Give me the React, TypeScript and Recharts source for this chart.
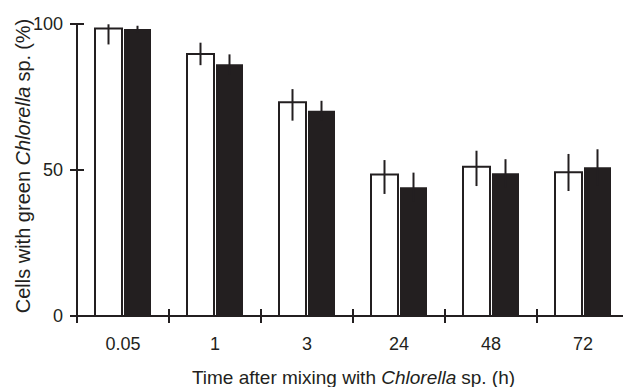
import { BarChart, Bar, XAxis, YAxis, ErrorBar } from 'recharts';

// Time after mixing (h) and % cells with green Chlorella
const CATEGORIES = ['0.05', '1', '3', '24', '48', '72'];
const WHITE = [98.5, 89.7, 73.2, 48.5, 51.1, 49.2];
const WHITE_ERR_LOW = [5.5, 3.8, 6.3, 6.7, 6.6, 6.4];
const WHITE_ERR_HIGH = [1.4, 3.9, 4.5, 4.9, 5.5, 6.3];
const BLACK = [98.3, 86.2, 70.3, 44.1, 48.9, 50.9];
const BLACK_ERR = [1.1, 3.4, 3.4, 5.0, 4.8, 6.2];
const Y_TICKS = [0, 50, 100];

const CHART_W = 640;
const CHART_H = 387;
const PLOT_LEFT = 77;
const PLOT_TOP = 24;
const PLOT_BOTTOM = 316;
const PLOT_RIGHT = 629;
const BAND = (PLOT_RIGHT - PLOT_LEFT) / CATEGORIES.length;
const INK = '#231f20';
const FONT = '"Liberation Sans", Arial, sans-serif';

const data = CATEGORIES.map((time, i) => ({
  time,
  white: WHITE[i],
  whiteErr: [WHITE_ERR_LOW[i], WHITE_ERR_HIGH[i]],
  black: BLACK[i],
  blackErr: BLACK_ERR[i],
}));

function XTick({ x, payload }: any) {
  const bx = x - BAND / 2;
  return (
    <g>
      <line x1={bx} x2={bx} y1={PLOT_BOTTOM - 7} y2={PLOT_BOTTOM + 7} stroke={INK} strokeWidth={2} />
      <text x={x} y={344} textAnchor="middle" dominantBaseline="central" fontSize={18} fill={INK} fontFamily={FONT}>
        {payload.value}
      </text>
    </g>
  );
}

function YTick({ y, payload }: any) {
  return (
    <g>
      <line x1={PLOT_LEFT - 7} x2={PLOT_LEFT + 7} y1={y} y2={y} stroke={INK} strokeWidth={2} />
      <text x={63} y={y} textAnchor="end" dominantBaseline="central" fontSize={18} fill={INK} fontFamily={FONT}>
        {payload.value}
      </text>
    </g>
  );
}

const XTitle = () => (
  <text x={353.5} y={384} textAnchor="middle" fontSize={19} fill={INK} fontFamily={FONT}>
    <tspan>Time after mixing with </tspan>
    <tspan fontStyle="italic">Chlorella</tspan>
    <tspan dx={5}>sp. (h)</tspan>
  </text>
);

const YTitle = () => (
  <text
    x={30}
    y={166}
    transform="rotate(-90 30 166)"
    textAnchor="middle"
    fontSize={20}
    fill={INK}
    fontFamily={FONT}
  >
    <tspan>Cells with green </tspan>
    <tspan fontStyle="italic">Chlorella</tspan>
    <tspan dx={5}>sp.</tspan>
    <tspan dx={5}>(%)</tspan>
  </text>
);

export default function App() {
  return (
    <div style={{ position: 'absolute', left: 0, top: 0, width: 623, height: 387, overflow: 'hidden', background: '#fff' }}>
      <BarChart
        width={CHART_W}
        height={CHART_H}
        data={data}
        margin={{ top: PLOT_TOP, right: CHART_W - PLOT_RIGHT, bottom: 0, left: 0 }}
        barSize={27}
        barGap={2}
      >
        <XAxis
          dataKey="time"
          height={CHART_H - PLOT_BOTTOM}
          axisLine={{ stroke: INK, strokeWidth: 2 }}
          tickLine={false}
          tick={<XTick />}
          interval={0}
          label={{ content: () => <XTitle /> }}
        />
        <YAxis
          width={PLOT_LEFT}
          domain={[0, 100]}
          ticks={Y_TICKS}
          axisLine={{ stroke: INK, strokeWidth: 2 }}
          tickLine={false}
          tick={<YTick />}
          label={{ content: () => <YTitle /> }}
        />
        <Bar dataKey="white" fill="#fff" stroke={INK} strokeWidth={2} isAnimationActive={false}>
          <ErrorBar dataKey="whiteErr" width={0} stroke={INK} strokeWidth={2} direction="y" />
        </Bar>
        <Bar dataKey="black" fill={INK} isAnimationActive={false}>
          <ErrorBar dataKey="blackErr" width={0} stroke={INK} strokeWidth={2} direction="y" />
        </Bar>
      </BarChart>
    </div>
  );
}
